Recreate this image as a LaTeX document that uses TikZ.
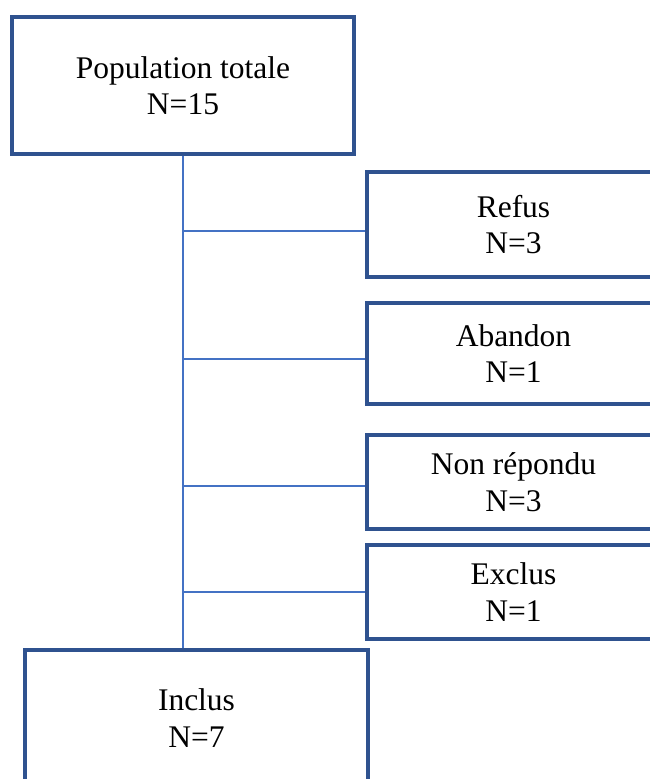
\documentclass[tikz,border=0pt]{standalone}
\usepackage{fontspec}
\setmainfont{Liberation Serif}
\definecolor{boxblue}{HTML}{2F528F}
\definecolor{linkblue}{HTML}{4472C4}
\tikzset{
  flowbox/.style={draw=boxblue, line width=3.3pt, rectangle, align=center, inner sep=0pt,
    font=\fontsize{31.5}{36.5}\selectfont},
  sidebox/.style={flowbox, minimum width=293pt},
  link/.style={draw=linkblue, line width=1.5pt}
}
\begin{document}
\begin{tikzpicture}[x=1pt,y=-1pt]
  \useasboundingbox (0,0) rectangle (650,779);
  \clip (0,0) rectangle (650,779);

  \node[flowbox, minimum width=342pt, minimum height=137pt] (total) at (183,85.5) {Population totale\\N=15};

  \node[sidebox, minimum height=105pt] (refus)   at (513.5,224.5) {Refus\\N=3};
  \node[sidebox, minimum height=101pt] (abandon) at (513.5,353.5) {Abandon\\N=1};
  \node[sidebox, minimum height=94pt]  (nonrep)  at (513.5,482)   {Non répondu\\N=3};
  \node[sidebox, minimum height=94pt]  (exclus)  at (513.5,592)   {Exclus\\N=1};

  \node[flowbox, minimum width=343pt, minimum height=136pt] (inclus) at (196.5,718) {Inclus\\N=7};

  % trunk and branches
  \draw[link] (total.south) -- (total.south |- inclus.north);
  \foreach \name/\dy in {refus/-6.5, abandon/-5.5, nonrep/-4, exclus/0}{
    \coordinate (\name-in) at ([yshift=\dy pt]\name.west);
    \draw[link] (total.south |- \name-in) -- (\name-in);
  }
\end{tikzpicture}
\end{document}
